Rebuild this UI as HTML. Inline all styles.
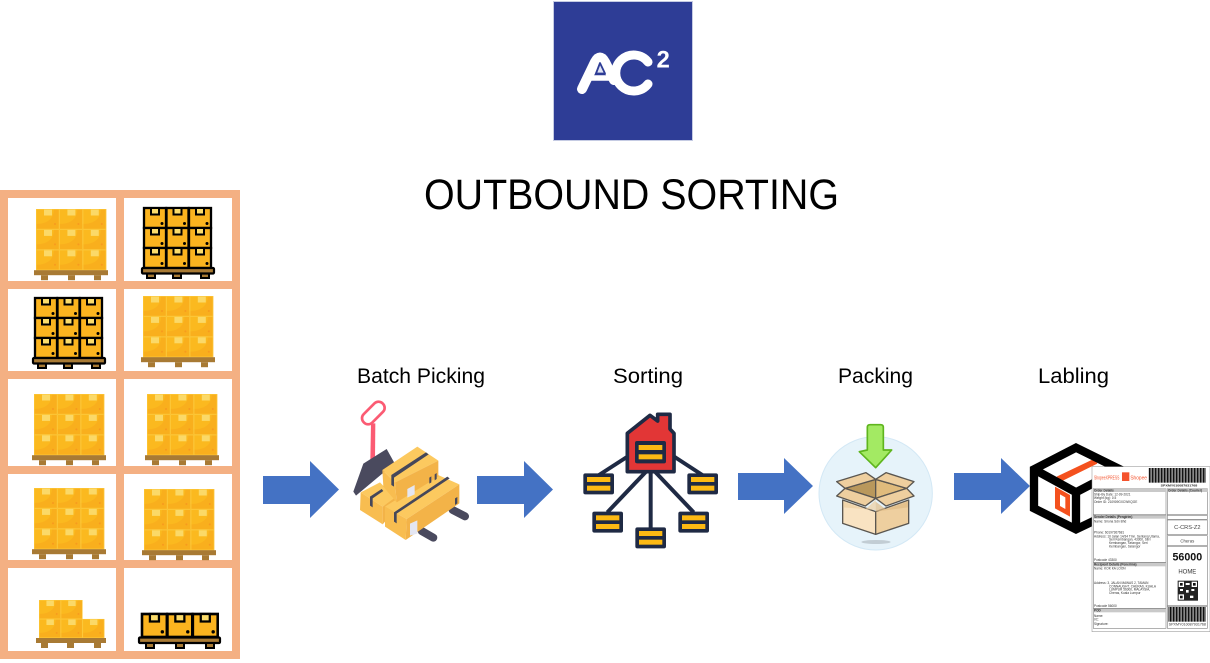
<!DOCTYPE html>
<html>
<head>
<meta charset="utf-8">
<style>
html,body{margin:0;padding:0;background:#fff;width:1210px;height:663px;overflow:hidden}
svg{display:block}
text{font-family:"Liberation Sans",sans-serif}
</style>
</head>
<body>
<svg width="1210" height="663" viewBox="0 0 1210 663" xmlns="http://www.w3.org/2000/svg">
<defs>
  <g id="b">
    <rect width="23.4" height="20.4" fill="#fbb91f"/>
    <path d="M0 15V20.4H23.4V0H18C18 9 12 15 0 15Z" fill="#f8a81c" opacity=".6"/>
    <rect x="8" y="0" width="8" height="6.500" fill="#fbd968"/>
    <circle cx="19" cy="15" r="1" fill="#f79a1f"/>
    <rect x=".3" y=".3" width="22.800" height="19.800" fill="none" stroke="#fcc83a" stroke-width=".6"/>
  </g>
  <g id="plain">
    <use href="#b" x="0" y="0"/><use href="#b" x="23.4" y="0"/><use href="#b" x="46.8" y="0"/>
    <use href="#b" x="0" y="20.4"/><use href="#b" x="23.4" y="20.4"/><use href="#b" x="46.8" y="20.4"/>
    <use href="#b" x="0" y="40.8"/><use href="#b" x="23.4" y="40.8"/><use href="#b" x="46.8" y="40.8"/>
    <rect x="-2" y="61.2" width="74" height="5" fill="#a87a34"/>
    <rect x="5" y="66.2" width="7" height="5" fill="#a87a34"/><rect x="32" y="66.2" width="7" height="5" fill="#a87a34"/><rect x="58" y="66.2" width="7" height="5" fill="#a87a34"/>
  </g>
  <g id="d">
    <rect width="22" height="20" fill="#fbb41f" stroke="#000" stroke-width="2.300"/>
    <path d="M7 0V6.500H15V0Z" fill="#fbdc6b" stroke="#000" stroke-width="2"/>
    <circle cx="18" cy="15.500" r="1.500" fill="#000"/>
  </g>
  <g id="palletD">
    <rect x="5" y="4" width="8" height="6" fill="#a87a34" stroke="#000" stroke-width="2"/>
    <rect x="31" y="4" width="8" height="6" fill="#a87a34" stroke="#000" stroke-width="2"/>
    <rect x="59" y="4" width="8" height="6" fill="#a87a34" stroke="#000" stroke-width="2"/>
    <rect x="0" y="0" width="72" height="5.500" rx="1" fill="#a87a34" stroke="#000" stroke-width="2.200"/>
  </g>
  <g id="dark">
    <use href="#d"/><use href="#d" x="22.5"/><use href="#d" x="45"/>
    <use href="#d" y="20"/><use href="#d" x="22.5" y="20"/><use href="#d" x="45" y="20"/>
    <use href="#d" y="40"/><use href="#d" x="22.5" y="40"/><use href="#d" x="45" y="40"/>
    <use href="#palletD" x="-2" y="60"/>
  </g>
  <g id="sb">
    <rect x="0" y="0" width="92" height="63" rx="6" fill="#1f2a44"/>
    <rect x="11" y="11" width="70" height="15" fill="#fdb913"/>
    <rect x="11" y="37" width="70" height="15" fill="#fdb913"/>
  </g>
  <pattern id="bars" width="9" height="10" patternUnits="userSpaceOnUse">
    <rect width="9" height="10" fill="#fff"/>
    <rect x="0" width="3.500" height="10" fill="#111"/>
    <rect x="4.500" width="3" height="10" fill="#111"/>
  </pattern>
</defs>

<!-- logo -->
<rect x="553.5" y="1.5" width="139" height="139" fill="#2e3d96" stroke="#c5cbe3" stroke-width="1"/>
<g fill="none" stroke="#fff" stroke-linecap="round" stroke-linejoin="round">
  <path d="M582 89L595 62Q600 53 605 62L614 80" stroke-width="10"/>
  <path d="M589 78H614" stroke-width="5.500"/>
  <path d="M648 62A18 18 0 1 0 648 84" stroke-width="9"/>
</g>
<path d="M600 63L596 73.500H605Z" fill="#dfe3f3" stroke="#2e3d96" stroke-width="1.800" stroke-linejoin="round"/>
<text x="656.500" y="67.500" font-size="24" font-weight="bold" fill="#fff">2</text>

<!-- title -->
<text x="424" y="209" font-size="43" fill="#000" textLength="415" lengthAdjust="spacingAndGlyphs">OUTBOUND SORTING</text>

<!-- rack -->
<g fill="#f4b083">
  <rect x="0" y="190" width="8" height="469"/>
  <rect x="116" y="190" width="8" height="469"/>
  <rect x="232" y="190" width="8" height="469"/>
  <rect x="0" y="190" width="240" height="8"/>
  <rect x="0" y="281" width="240" height="8"/>
  <rect x="0" y="371" width="240" height="8"/>
  <rect x="0" y="466" width="240" height="8"/>
  <rect x="0" y="560" width="240" height="8"/>
  <rect x="0" y="651" width="240" height="8"/>
</g>
<use href="#plain" x="36" y="209"/>
<use href="#dark" x="144" y="208"/>
<use href="#dark" x="35" y="298"/>
<use href="#plain" x="143" y="296"/>
<use href="#plain" x="34" y="394"/>
<use href="#plain" x="147" y="394"/>
<use href="#plain" x="34" y="488"/>
<use href="#plain" x="144" y="489"/>
<!-- partial pallets -->
<g transform="translate(39 600)">
  <use href="#b" transform="scale(.93 .93)"/><use href="#b" x="23.400" transform="scale(.93 .93)"/>
  <use href="#b" y="20.400" transform="scale(.93 .93)"/><use href="#b" x="23.400" y="20.400" transform="scale(.93 .93)"/><use href="#b" x="46.800" y="20.400" transform="scale(.93 .93)"/>
  <rect x="-3" y="38" width="70" height="5" fill="#a87a34"/>
  <rect x="2" y="43" width="7" height="5" fill="#a87a34"/><rect x="28" y="43" width="7" height="5" fill="#a87a34"/><rect x="55" y="43" width="7" height="5" fill="#a87a34"/>
</g>
<g transform="translate(142 614)">
  <g transform="scale(1.130 1.150)"><use href="#d"/><use href="#d" x="22.500"/><use href="#d" x="45"/></g>
  <rect x="-3" y="23.500" width="81" height="5.500" rx="1" fill="#a87a34" stroke="#000" stroke-width="2.200"/>
  <rect x="4" y="29" width="8" height="5" fill="#a87a34" stroke="#000" stroke-width="2"/>
  <rect x="34" y="29" width="8" height="5" fill="#a87a34" stroke="#000" stroke-width="2"/>
  <rect x="64" y="29" width="8" height="5" fill="#a87a34" stroke="#000" stroke-width="2"/>
</g>

<!-- arrows -->
<g fill="#4472c4">
  <path d="M263 476H310V461L339 489.500L310 518V504H263Z"/>
  <path d="M477 476H524V461L553 489.500L524 518V504H477Z"/>
  <path d="M738 473H784V458L813 486L784 514V500H738Z"/>
  <path d="M954 473H1001V458L1030 486L1001 514V500H954Z"/>
</g>

<!-- labels -->
<g font-size="21" fill="#000">
  <text x="357" y="383" textLength="128" lengthAdjust="spacingAndGlyphs">Batch Picking</text>
  <text x="613" y="383" textLength="70" lengthAdjust="spacingAndGlyphs">Sorting</text>
  <text x="838" y="383" textLength="75" lengthAdjust="spacingAndGlyphs">Packing</text>
  <text x="1038" y="383" textLength="71" lengthAdjust="spacingAndGlyphs">Labling</text>
</g>

<!-- pallet jack -->
<g transform="translate(340 395) scale(.33333)">
  <path d="M338 345L375 364" stroke="#4a4a5e" stroke-width="24" stroke-linecap="round"/>
  <path d="M245 408L280 428" stroke="#4a4a5e" stroke-width="24" stroke-linecap="round"/>
  <path d="M93 85L106 85L105 195L91 195Z" fill="#fb5b73"/>
  <rect x="60" y="36" width="80" height="36" rx="17" transform="rotate(-45 100 54)" fill="none" stroke="#fb5b73" stroke-width="8"/>
  <path d="M92 192L140 162L164 205L48 302L40 290L70 206Z" fill="#4a4a5e"/>
  <!-- small box -->
  <path d="M62 292L120 262L165 310L128 335Z" fill="#fcc95f"/>
  <path d="M62 292L128 335L128 388L60 345Z" fill="#f8bd50"/>
  <path d="M128 335L165 308L165 345L128 388Z" fill="#f3b348"/>
  <path d="M90 305L125 282L130 288L98 310V337L90 332Z" fill="#45475a"/>
  <!-- big box -->
  <path d="M135 335L290 238L358 268L200 372Z" fill="#fcc95f"/>
  <path d="M135 335L200 372L197 435L135 395Z" fill="#f8bd50"/>
  <path d="M200 372L358 268L358 325L197 435Z" fill="#f3b348"/>
  <path d="M162 352L322 245L329 250L170 356V385L162 380Z" fill="#45475a"/>
  <path d="M210 386L232 376V416L210 422Z" fill="#e4e6f2"/>
  <path d="M345 310L352 306V325L345 330Z" fill="#45475a"/>
  <!-- top box -->
  <path d="M127 225L232 155L295 197L165 262Z" fill="#fcc95f"/>
  <path d="M127 225L165 262L170 322L130 275Z" fill="#f8bd50"/>
  <path d="M165 262L295 197L295 245L170 322Z" fill="#f3b348"/>
  <path d="M154 240L258 172L266 178L162 248V275L154 270Z" fill="#45475a"/>
  <path d="M202 282L224 270V298L202 308Z" fill="#e4e6f2"/>
  <path d="M268 248L274 244V262L268 266ZM284 238L290 234V252L284 256Z" fill="#45475a"/>
</g>

<!-- sorting network -->
<g transform="translate(575 405) scale(.33333)">
  <g stroke="#1f2a44" stroke-width="12" fill="none">
    <path d="M165 150L72 210"/><path d="M290 150L382 210"/>
    <path d="M215 198L97 322"/><path d="M238 198L356 322"/><path d="M227 198V370"/>
  </g>
  <path d="M157 85L225 31L248 48V28H285V72L297 85V200H157Z" fill="#e23636" stroke="#1f2a44" stroke-width="11" stroke-linejoin="round"/>
  <rect x="180" y="108" width="93" height="67" rx="6" fill="#1f2a44"/>
  <rect x="191" y="120" width="71" height="15" fill="#fdb913"/>
  <rect x="191" y="148" width="71" height="15" fill="#fdb913"/>
  <use href="#sb" x="25" y="205"/><use href="#sb" x="337" y="205"/>
  <use href="#sb" x="52" y="320"/><use href="#sb" x="310" y="320"/>
  <use href="#sb" x="181" y="367"/>
</g>

<!-- packing -->
<g transform="translate(810 420) scale(.33333)">
  <circle cx="197" cy="220" r="170" fill="#e6f3fa" stroke="#d3e8f5" stroke-width="3"/>
  <ellipse cx="198" cy="366" rx="44" ry="6" fill="#c2cdd4"/>
  <path d="M172 22Q172 14 180 14H212Q220 14 220 22V90H245L197 143L148 95L172 90Z" fill="#a3ea63" stroke="#5fb51e" stroke-width="5" stroke-linejoin="round"/>
  <path d="M98 240L197 275V343L98 310Z" fill="#f9e3c2" stroke="#5a5650" stroke-width="4" stroke-linejoin="round"/>
  <path d="M197 275L296 240V310L197 343Z" fill="#eecf9f" stroke="#5a5650" stroke-width="4" stroke-linejoin="round"/>
  <path d="M100 245L166 268L197 240V270L100 262Z" fill="#eecf9f" opacity=".7"/>
  <path d="M294 245L228 268L197 245V275L294 262Z" fill="#dfba84" opacity=".7"/>
  <path d="M105 205L197 178V235Z" fill="#b9985c" stroke="#5a5650" stroke-width="4" stroke-linejoin="round"/>
  <path d="M197 178L290 205L197 235Z" fill="#e0bb7c" stroke="#5a5650" stroke-width="4" stroke-linejoin="round"/>
  <path d="M197 178L168 158L80 185L105 205Z" fill="#eecf9f" stroke="#5a5650" stroke-width="4" stroke-linejoin="round"/>
  <path d="M197 178L228 158L312 185L290 205Z" fill="#eecf9f" stroke="#5a5650" stroke-width="4" stroke-linejoin="round"/>
  <path d="M105 205L197 235L166 258L80 228Z" fill="#eecf9f" stroke="#5a5650" stroke-width="4" stroke-linejoin="round"/>
  <path d="M290 205L197 235L228 258L312 228Z" fill="#eecf9f" stroke="#5a5650" stroke-width="4" stroke-linejoin="round"/>
</g>

<!-- labelling -->
<g transform="translate(1020 435) scale(.33333)">
  <path d="M30 95L168 25L305 95V225L168 295L30 225Z" fill="#fff"/>
  <path d="M110 125L225 70L232 86L118 142Z" fill="#f4511e"/>
  <path d="M105 155L150 180V245L105 220Z" fill="#f4511e"/>
  <path d="M120 178L136 187V222L120 213Z" fill="#fff"/>
  <path d="M42 103L168 38L300 103V220L168 283L42 220Z" fill="none" stroke="#000" stroke-width="25" stroke-linejoin="miter"/>
  <path d="M42 103L168 172L300 103M168 172V283" fill="none" stroke="#000" stroke-width="25"/>

  <rect x="216" y="95" width="354" height="495" fill="#fff" stroke="#8a8a8a" stroke-width="1.500"/>
  <text x="222" y="134" font-size="16" fill="#f4532d" textLength="76" lengthAdjust="spacingAndGlyphs">ShopeeXPRESS</text>
  <rect x="306" y="112" width="22" height="26" fill="#f4532d"/>
  <text x="331" y="134" font-size="17" fill="#f4532d" textLength="50" lengthAdjust="spacingAndGlyphs">Shopee</text>
  <rect x="385" y="99" width="172" height="44" fill="url(#bars)"/>
  <text x="422" y="154" font-size="9" font-weight="bold" fill="#222" textLength="110" lengthAdjust="spacingAndGlyphs">SPXMY010087931768</text>

  <g fill="none" stroke="#8a8a8a" stroke-width="2">
    <rect x="220" y="161" width="218" height="78"/>
    <rect x="220" y="241" width="218" height="141"/>
    <rect x="220" y="384" width="218" height="136"/>
    <rect x="220" y="522" width="218" height="58"/>
    <rect x="442" y="161" width="120" height="78"/>
    <rect x="442" y="241" width="120" height="12"/>
    <rect x="442" y="255" width="120" height="44"/>
    <rect x="442" y="302" width="120" height="30"/>
    <rect x="442" y="334" width="120" height="178"/>
    <rect x="442" y="514" width="120" height="66"/>
  </g>
  <g fill="#c9c9c9">
    <rect x="220" y="161" width="218" height="10"/>
    <rect x="442" y="161" width="120" height="10"/>
    <rect x="220" y="241" width="218" height="10"/>
    <rect x="220" y="384" width="218" height="10"/>
    <rect x="220" y="522" width="218" height="10"/>
  </g>
  <g font-size="9.500" fill="#333">
    <text x="222" y="169" font-weight="bold">Order Details</text>
    <text x="444" y="169" font-weight="bold">Order Details (Courier)</text>
    <text x="222" y="181">Ship-By Date: 12-09-2021</text>
    <text x="222" y="192">Weight (kg): 0.5</text>
    <text x="222" y="204">Order ID: 210909GXCWKQGE</text>
    <text x="222" y="249" font-weight="bold">Sender Details (Pengirim)</text>
    <text x="222" y="262">Name: Sirona Sdn Bhd</text>
    <text x="222" y="295">Phone: 60197367681</text>
    <text x="222" y="307">Address: 10 Jalan 14/34 Tmn. Sentang Utama,</text>
    <text x="267" y="317">Seri Kembangan, 43300, Seri</text>
    <text x="267" y="327">Kembangan, Selangor, Seri</text>
    <text x="267" y="337">Kembangan, Selangor</text>
    <text x="222" y="378">Postcode 43300</text>
    <text x="222" y="392" font-weight="bold">Recipient Details (Penerima)</text>
    <text x="222" y="404">Name: KOK KA LOON</text>
    <text x="222" y="447">Address: 3, JALAN MAWAS 2, TAMAN</text>
    <text x="267" y="457">CONNAUGHT, CHERAS, KUALA</text>
    <text x="267" y="467">LUMPUR 56000, MALAYSIA,</text>
    <text x="267" y="477">Cheras, Kuala Lumpur</text>
    <text x="222" y="516">Postcode 56000</text>
    <text x="222" y="530" font-weight="bold">POD</text>
    <text x="222" y="546">Name:</text>
    <text x="222" y="556">I/C:</text>
    <text x="222" y="570">Signature:</text>
    <text x="446" y="572" font-size="10" textLength="112" lengthAdjust="spacingAndGlyphs">SPXMY010087931768</text>
  </g>
  <text x="502" y="282" font-size="17" fill="#444" text-anchor="middle">C-CRS-Z2</text>
  <text x="502" y="322" font-size="13" fill="#444" text-anchor="middle">Cheras</text>
  <text x="502" y="376" font-size="32" font-weight="bold" fill="#111" text-anchor="middle">56000</text>
  <text x="502" y="415" font-size="18" fill="#333" text-anchor="middle">HOME</text>
  <g fill="#111">
    <rect x="473" y="437" width="61" height="60" fill="#222"/>
    <rect x="476" y="440" width="16" height="16" fill="#fff"/><rect x="480" y="444" width="8" height="8"/>
    <rect x="515" y="440" width="16" height="16" fill="#fff"/><rect x="519" y="444" width="8" height="8"/>
    <rect x="476" y="478" width="16" height="16" fill="#fff"/><rect x="480" y="482" width="8" height="8"/>
    <rect x="497" y="444" width="12" height="6" fill="#fff"/><rect x="498" y="465" width="8" height="8" fill="#fff"/>
    <rect x="514" y="462" width="9" height="6" fill="#fff"/><rect x="510" y="482" width="10" height="7" fill="#fff"/>
    <rect x="480" y="462" width="9" height="6" fill="#fff"/>
  </g>
  <rect x="445" y="516" width="113" height="44" fill="url(#bars)"/>
</g>
</svg>
</body>
</html>
